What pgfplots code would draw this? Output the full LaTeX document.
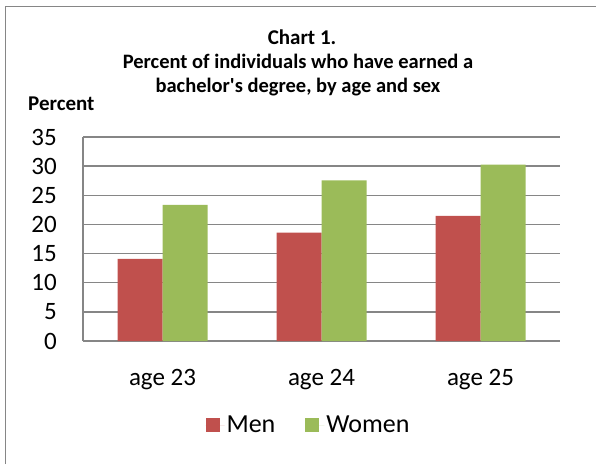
\documentclass[border=0pt]{standalone}
\usepackage{pgfplots}
\pgfplotsset{compat=1.18}
\usepackage{fontspec}
\setmainfont{Carlito}
\definecolor{menc}{HTML}{C0504D}
\definecolor{womenc}{HTML}{9BBB59}
\definecolor{gridc}{HTML}{868686}
\begin{document}
\begin{tikzpicture}[x=1pt,y=1pt]
\useasboundingbox (0,0) rectangle (596,464);
\draw[gridc, line width=1.5pt] (5.5,0) -- (5.5,457.5) -- (596,457.5);
\node[anchor=base, inner sep=0pt, font=\fontsize{21}{24}\selectfont\bfseries] at (302,419) {Chart 1.};
\node[anchor=base, inner sep=0pt, font=\fontsize{20.5}{24}\selectfont\bfseries] at (298,395) {Percent of individuals who have earned a};
\node[anchor=base, inner sep=0pt, font=\fontsize{20.5}{24}\selectfont\bfseries] at (298,371) {bachelor\textquotesingle s degree, by age and sex};
\node[anchor=base west, inner sep=0pt, font=\fontsize{21}{24}\selectfont\bfseries] at (28,353) {Percent};
\begin{axis}[
  at={(83pt,123pt)}, anchor=south west,
  scale only axis, width=477pt, height=204pt,
  ybar=0pt, bar width=45pt,
  xmin=-0.5, xmax=2.5, ymin=0, ymax=35,
  xtick={0,1,2}, xticklabels={age 23, age 24, age 25},
  ytick={0,5,...,35},
  axis x line*=bottom, axis y line*=left,
  axis line style={gridc, line width=1.5pt, -},
  ymajorgrids, grid style={gridc, line width=1.5pt},
  major tick length=0pt,
  tick style={draw=none},
  /pgf/number format/assume math mode=true,
  ticklabel style={font=\fontsize{25}{28}\selectfont, inner sep=0pt},
  yticklabel style={anchor=east, xshift=-26pt},
  xticklabel style={anchor=base, yshift=-44pt},
  legend columns=2,
  legend style={at={(axis description cs:0.4728,-0.412)}, anchor=center, draw=none,
    font=\fontsize{26}{28}\selectfont, /tikz/every even column/.append style={column sep=28pt}},
  legend image code/.code={\fill[#1] (0pt,-7pt) rectangle (14pt,7pt); \path (0pt,0pt) -- (19pt,0pt);},
]
\addplot[fill=menc, draw=none] coordinates {(0,14.1) (1,18.6) (2,21.45)};
\addplot[fill=womenc, draw=none] coordinates {(0,23.35) (1,27.55) (2,30.25)};
\legend{Men, Women}
\end{axis}
\end{tikzpicture}
\end{document}
